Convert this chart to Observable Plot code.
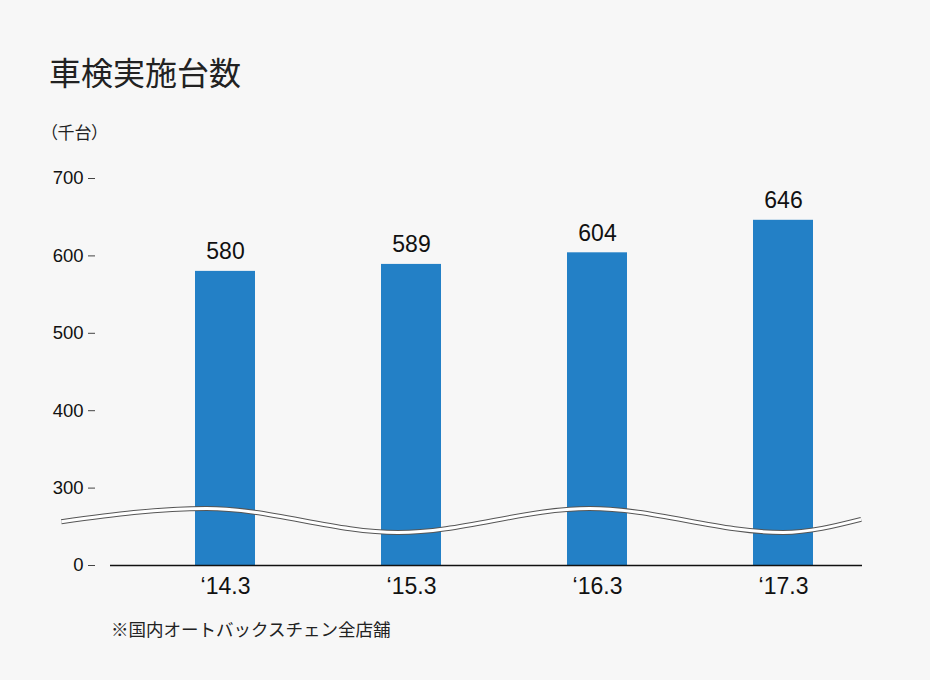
<!DOCTYPE html>
<html><head><meta charset="utf-8">
<script src="https://cdn.jsdelivr.net/npm/d3@7"></script>
<script src="https://cdn.jsdelivr.net/npm/@observablehq/plot@0.6"></script>
<style>
body{margin:0;background:#f7f7f7;}
#wrap{position:relative;width:930px;height:680px;background:#f7f7f7;overflow:hidden;}
#wrap svg{position:absolute;left:0;top:0;}
.t{position:absolute;font-family:"Noto Sans CJK JP",sans-serif;color:#222;line-height:1;white-space:nowrap;font-feature-settings:"palt";}
#title{left:49px;top:55px;font-size:32px;}
#unit{left:49px;top:123px;font-size:17px;}
#note{left:111px;top:620px;font-size:17.5px;font-feature-settings:normal;}
</style></head>
<body><div id="wrap">
<div class="t" id="title">車検実施台数</div>
<div class="t" id="unit">（千台）</div>
<div class="t" id="note">※国内オートバックスチェン全店舗</div>
</div>
<script>
const periods = ["‘14.3", "‘15.3", "‘16.3", "‘17.3"];
const counts = [580, 589, 604, 646];
const yTicks = [200, 300, 400, 500, 600, 700];
const yTickLabels = ["0", "300", "400", "500", "600", "700"];
// axis break wave: position in category steps from first bar, level in value units
const waveAt = [-0.88, -0.1, 0.93, 1.96, 3.0, 3.42];
const waveLevel = [256, 273, 242, 273, 242, 259];

const data = periods.map((p, i) => ({period: p, count: counts[i]}));
const wave = waveAt.map((a, i) => ({at: a, v: waveLevel[i]}));

function breakMark(index, scales, values, dimensions) {
  const x = scales.x, y = scales.y;
  const step = x.step ? x.step() : (x(periods[1]) - x(periods[0]));
  const bw = x.bandwidth ? x.bandwidth() : 0;
  const x0 = x(periods[0]) + bw / 2;
  const line = d3.line().x(d => x0 + d.at * step).y(d => y(d.v)).curve(d3.curveMonotoneX);
  const g = d3.create("svg:g");
  const dstr = line(wave);
  g.append("path").attr("d", dstr).attr("fill", "none").attr("stroke", "#555").attr("stroke-width", 5);
  g.append("path").attr("d", dstr).attr("fill", "none").attr("stroke", "#fff").attr("stroke-width", 3);
  return g.node();
}

const plot = Plot.plot({
  width: 930,
  height: 680,
  marginTop: 178,
  marginBottom: 115,
  marginLeft: 95,
  marginRight: 24,
  style: {background: "transparent", fontFamily: "'Liberation Sans', Arial, sans-serif", color: "#111"},
  x: {domain: periods, range: [102, 906], paddingInner: 0.68, paddingOuter: 0.5, align: 0.5},
  y: {domain: [200, 700], range: [565, 178]},
  marks: [
    Plot.barY(data, {x: "period", y1: 200, y2: "count", fill: "#2380c6"}),
    breakMark,
    Plot.ruleY([200], {stroke: "#111", strokeWidth: 1.5, insetLeft: 15, insetRight: 44}),
    Plot.text(data, {x: "period", y: "count", text: d => String(d.count), dy: -12, lineAnchor: "bottom", fontSize: 23, fill: "#111"}),
    Plot.axisY(yTicks, {tickFormat: (d) => yTickLabels[yTicks.indexOf(d)], tickSize: 7, tickPadding: 5, fontSize: 18.5, stroke: "#444", fill: "#111", label: null}),
    Plot.axisX({tickSize: 0, tickPadding: 12, fontSize: 23, fill: "#111", label: null})
  ]
});
d3.select(plot).selectAll('g[aria-label="y-axis tick label"]').attr("font-size", 18.5).style("font-size", "18.5px");
document.getElementById("wrap").prepend(plot);
</script>
</body></html>
